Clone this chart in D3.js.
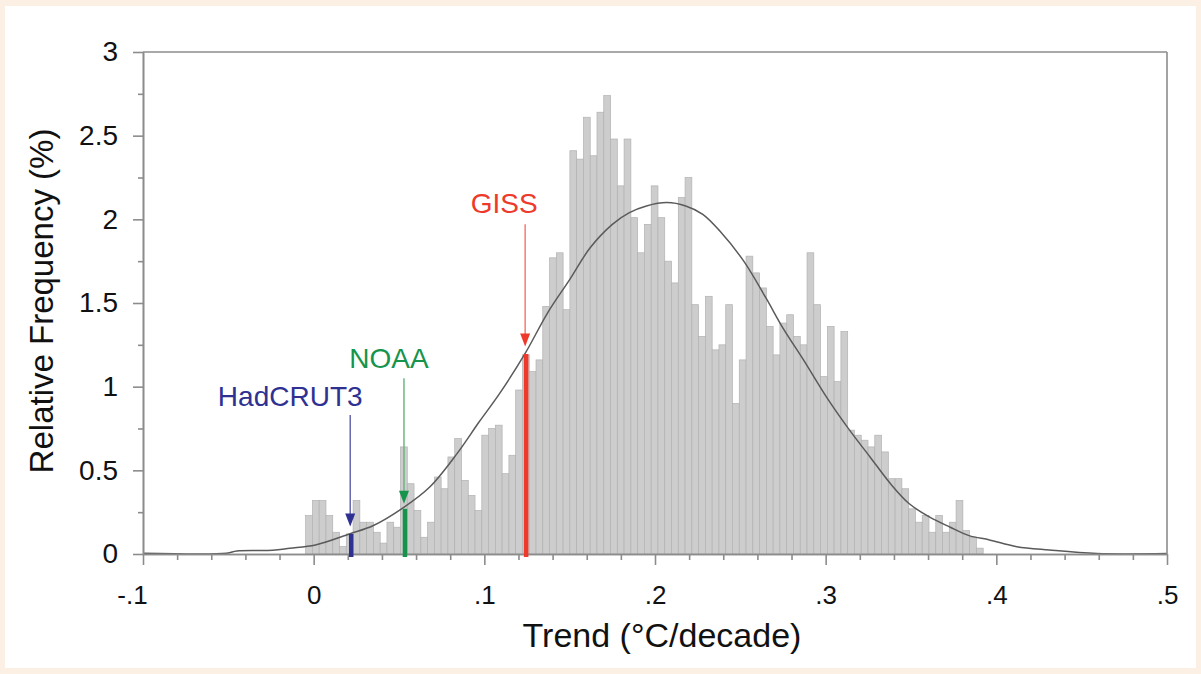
<!DOCTYPE html>
<html>
<head>
<meta charset="utf-8">
<script src="https://cdn.jsdelivr.net/npm/d3@7"></script>
<style>
  html, body { margin: 0; padding: 0; background: #fcefe4; }
  svg { display: block; }
  text { font-family: "Liberation Sans", Arial, sans-serif; }
</style>
</head>
<body>
<svg id="chart" width="1201" height="674"></svg>
<script>
// ---------- data ----------
const binStart = -0.0047;     // left edge of the first histogram bin (°C/decade)
const binWidth = 0.00397;     // bin width (°C/decade)
const freq = [
  0.23, 0.32, 0.32, 0.23, 0.13, 0.045, 0.12, 0.32, 0.19, 0.19,
  0.13, 0.065, 0.19, 0.16, 0.64, 0.42, 0.26, 0.10, 0.19, 0.46,
  0.39, 0.58, 0.69, 0.44, 0.35, 0.26, 0.71, 0.75, 0.77, 0.48,
  0.59, 0.98, 1.19, 1.09, 1.16, 1.48, 1.77, 1.80, 1.46, 2.41,
  2.36, 2.61, 2.38, 2.64, 2.74, 2.48, 2.20, 2.48, 2.01, 1.80,
  1.97, 2.20, 2.01, 1.75, 1.62, 2.13, 2.25, 1.49, 1.30, 1.54,
  1.22, 1.25, 1.49, 0.90, 1.16, 1.78, 1.68, 1.59, 1.36, 1.19,
  1.38, 1.43, 1.30, 1.25, 1.80, 1.49, 1.06, 1.36, 1.03, 1.33,
  0.74, 0.71, 0.68, 0.64, 0.71, 0.61, 0.45, 0.45, 0.39, 0.27,
  0.19, 0.23, 0.13, 0.23, 0.13, 0.19, 0.32, 0.14, 0.10, 0.035
];
// fitted distribution curve (trend, relative frequency %)
const curveX = [-0.100, -0.051, -0.045, -0.024, -0.014, 0.001, 0.021, 0.035, 0.053, 0.068,
                0.084, 0.097, 0.109, 0.124, 0.137, 0.150, 0.162, 0.175, 0.185, 0.195,
                0.207, 0.218, 0.228, 0.238, 0.252, 0.265, 0.275, 0.287, 0.301, 0.314,
                0.326, 0.338, 0.349, 0.361, 0.373, 0.384, 0.396, 0.412, 0.431, 0.459, 0.500];
const curveY = [0.005, 0.005, 0.018, 0.022, 0.034, 0.054, 0.12, 0.17, 0.28, 0.40,
                0.60, 0.79, 0.96, 1.20, 1.44, 1.64, 1.83, 1.97, 2.04, 2.08,
                2.10, 2.08, 2.03, 1.93, 1.75, 1.53, 1.35, 1.16, 0.93, 0.74,
                0.58, 0.42, 0.30, 0.22, 0.16, 0.11, 0.084, 0.044, 0.024, 0.003, 0.003];
// observed data sets
const markerNames = ["HadCRUT3", "NOAA", "GISS"];
const markerTrend = [0.022, 0.0535, 0.1245];
const markerFreq  = [0.12, 0.27, 1.195];
// axis ticks
const xMajorTicks = [-0.1, 0, 0.1, 0.2, 0.3, 0.4, 0.5];
const xTickLabels = ["-.1", "0", ".1", ".2", ".3", ".4", ".5"];
const xMinorTicks = [-0.08, -0.06, -0.04, -0.02, 0.02, 0.04, 0.06, 0.08, 0.12, 0.14, 0.16, 0.18,
                     0.22, 0.24, 0.26, 0.28, 0.32, 0.34, 0.36, 0.38, 0.42, 0.44, 0.46, 0.48];
const yMajorTicks = [0, 0.5, 1, 1.5, 2, 2.5, 3];
const yTickLabels = ["0", "0.5", "1", "1.5", "2", "2.5", "3"];
const yMinorTicks = [0.25, 0.75, 1.25, 1.75, 2.25, 2.75];
const xTitle = "Trend (°C/decade)";
const yTitle = "Relative Frequency (%)";

// ---------- styling / layout ----------
const markerColor = ["#2e3192", "#16944c", "#ee3a2a"];
const markerLine  = ["#5b5ea8", "#63b27e", "#f27563"];
// label placement: [label centre dx (px from marker), label baseline value, arrow top value, arrow tip value]
const labelLayout = [
  { dx: -61, base: 0.885, top: 0.83, tip: 0.165 },
  { dx: -16, base: 1.11,  top: 1.05, tip: 0.30 },
  { dx: -22, base: 2.04,  top: 1.97, tip: 1.24 }
];

const svg = d3.select("#chart");
const W = 1201, H = 674;
svg.append("rect").attr("x", 0).attr("y", 0).attr("width", W).attr("height", H).attr("fill", "#fcefe4");
svg.append("rect").attr("x", 5).attr("y", 6).attr("width", 1191).attr("height", 662).attr("fill", "#ffffff");

const L = 143, R = 1167, T = 52, B = 554;
const x = d3.scaleLinear().domain([-0.1, 0.5]).range([L, R]);
const y = d3.scaleLinear().domain([0, 3]).range([B, T]);

const axisColor = "#8c8c8c";

// bars
const g = svg.append("g");
g.selectAll("rect.bar").data(freq).join("rect")
  .attr("class", "bar")
  .attr("x", (d, i) => x(binStart + i * binWidth))
  .attr("width", (d, i) => x(binStart + (i + 1) * binWidth) - x(binStart + i * binWidth))
  .attr("y", d => y(d))
  .attr("height", d => y(0) - y(d))
  .attr("fill", "#cdcdcd")
  .attr("stroke", "#b2b2b2")
  .attr("stroke-width", 0.7);

// fitted curve
const curvePts = curveX.map((v, i) => [v, curveY[i]]);
g.append("path").datum(curvePts)
  .attr("d", d3.line().x(d => x(d[0])).y(d => y(d[1])).curve(d3.curveCatmullRom.alpha(0.5)))
  .attr("fill", "none").attr("stroke", "#5a5a5a").attr("stroke-width", 1.5);

// frame (top and right)
svg.append("line").attr("x1", L).attr("x2", R).attr("y1", T).attr("y2", T)
  .attr("stroke", axisColor).attr("stroke-width", 1.6);
svg.append("line").attr("x1", R).attr("x2", R).attr("y1", T).attr("y2", B)
  .attr("stroke", axisColor).attr("stroke-width", 1.6);

// axes
function styleAxis(sel) {
  sel.select(".domain").attr("stroke", axisColor).attr("stroke-width", 1.6);
  sel.selectAll(".tick line").attr("stroke", axisColor).attr("stroke-width", 1.6);
  sel.selectAll(".tick text").attr("fill", "#111")
     .style("font-family", "'Liberation Sans', Arial, sans-serif");
}
const xMinor = svg.append("g").attr("transform", `translate(0,${B})`)
  .call(d3.axisBottom(x).tickValues(xMinorTicks).tickSize(6).tickSizeOuter(0).tickFormat(""));
styleAxis(xMinor);
const xMajor = svg.append("g").attr("transform", `translate(0,${B})`)
  .call(d3.axisBottom(x).tickValues(xMajorTicks).tickSize(11).tickSizeOuter(0).tickPadding(21)
        .tickFormat((d, i) => xTickLabels[i]));
styleAxis(xMajor);
xMajor.selectAll(".tick text").style("font-size", "26px")
  .attr("dx", (d) => d < 0 ? "-11" : "0");

const yMinor = svg.append("g").attr("transform", `translate(${L},0)`)
  .call(d3.axisLeft(y).tickValues(yMinorTicks).tickSize(5).tickSizeOuter(0).tickFormat(""));
styleAxis(yMinor);
const yMajor = svg.append("g").attr("transform", `translate(${L},0)`)
  .call(d3.axisLeft(y).tickValues(yMajorTicks).tickSize(10).tickSizeOuter(0).tickPadding(15)
        .tickFormat((d, i) => yTickLabels[i]));
styleAxis(yMajor);
yMajor.selectAll(".tick text").style("font-size", "28px");

// axis titles
svg.append("text").attr("x", 662).attr("y", 647).attr("text-anchor", "middle")
  .style("font-size", "34px").attr("fill", "#111").text(xTitle);
svg.append("text").attr("transform", "translate(53,301) rotate(-90)").attr("text-anchor", "middle")
  .style("font-size", "33px").attr("fill", "#111").text(yTitle);

// markers for observed trends
markerNames.forEach((name, i) => {
  const mx = x(markerTrend[i]);
  const lay = labelLayout[i];
  // thick bar from the curve down to the axis
  svg.append("line").attr("x1", mx).attr("x2", mx)
    .attr("y1", y(markerFreq[i])).attr("y2", y(0) + 3)
    .attr("stroke", markerColor[i]).attr("stroke-width", 4.5);
  // arrow shaft
  const tipY = y(lay.tip);
  svg.append("line").attr("x1", mx - 1).attr("x2", mx - 1)
    .attr("y1", y(lay.top)).attr("y2", tipY - 10)
    .attr("stroke", markerLine[i]).attr("stroke-width", 1.4);
  // arrow head
  svg.append("path")
    .attr("d", `M${mx - 6},${tipY - 13} L${mx + 4},${tipY - 13} L${mx - 1},${tipY} Z`)
    .attr("fill", markerColor[i]);
  // label
  svg.append("text").attr("x", mx + lay.dx).attr("y", y(lay.base))
    .attr("text-anchor", "middle").style("font-size", "28px")
    .attr("fill", markerColor[i]).text(name);
});
</script>
</body>
</html>
